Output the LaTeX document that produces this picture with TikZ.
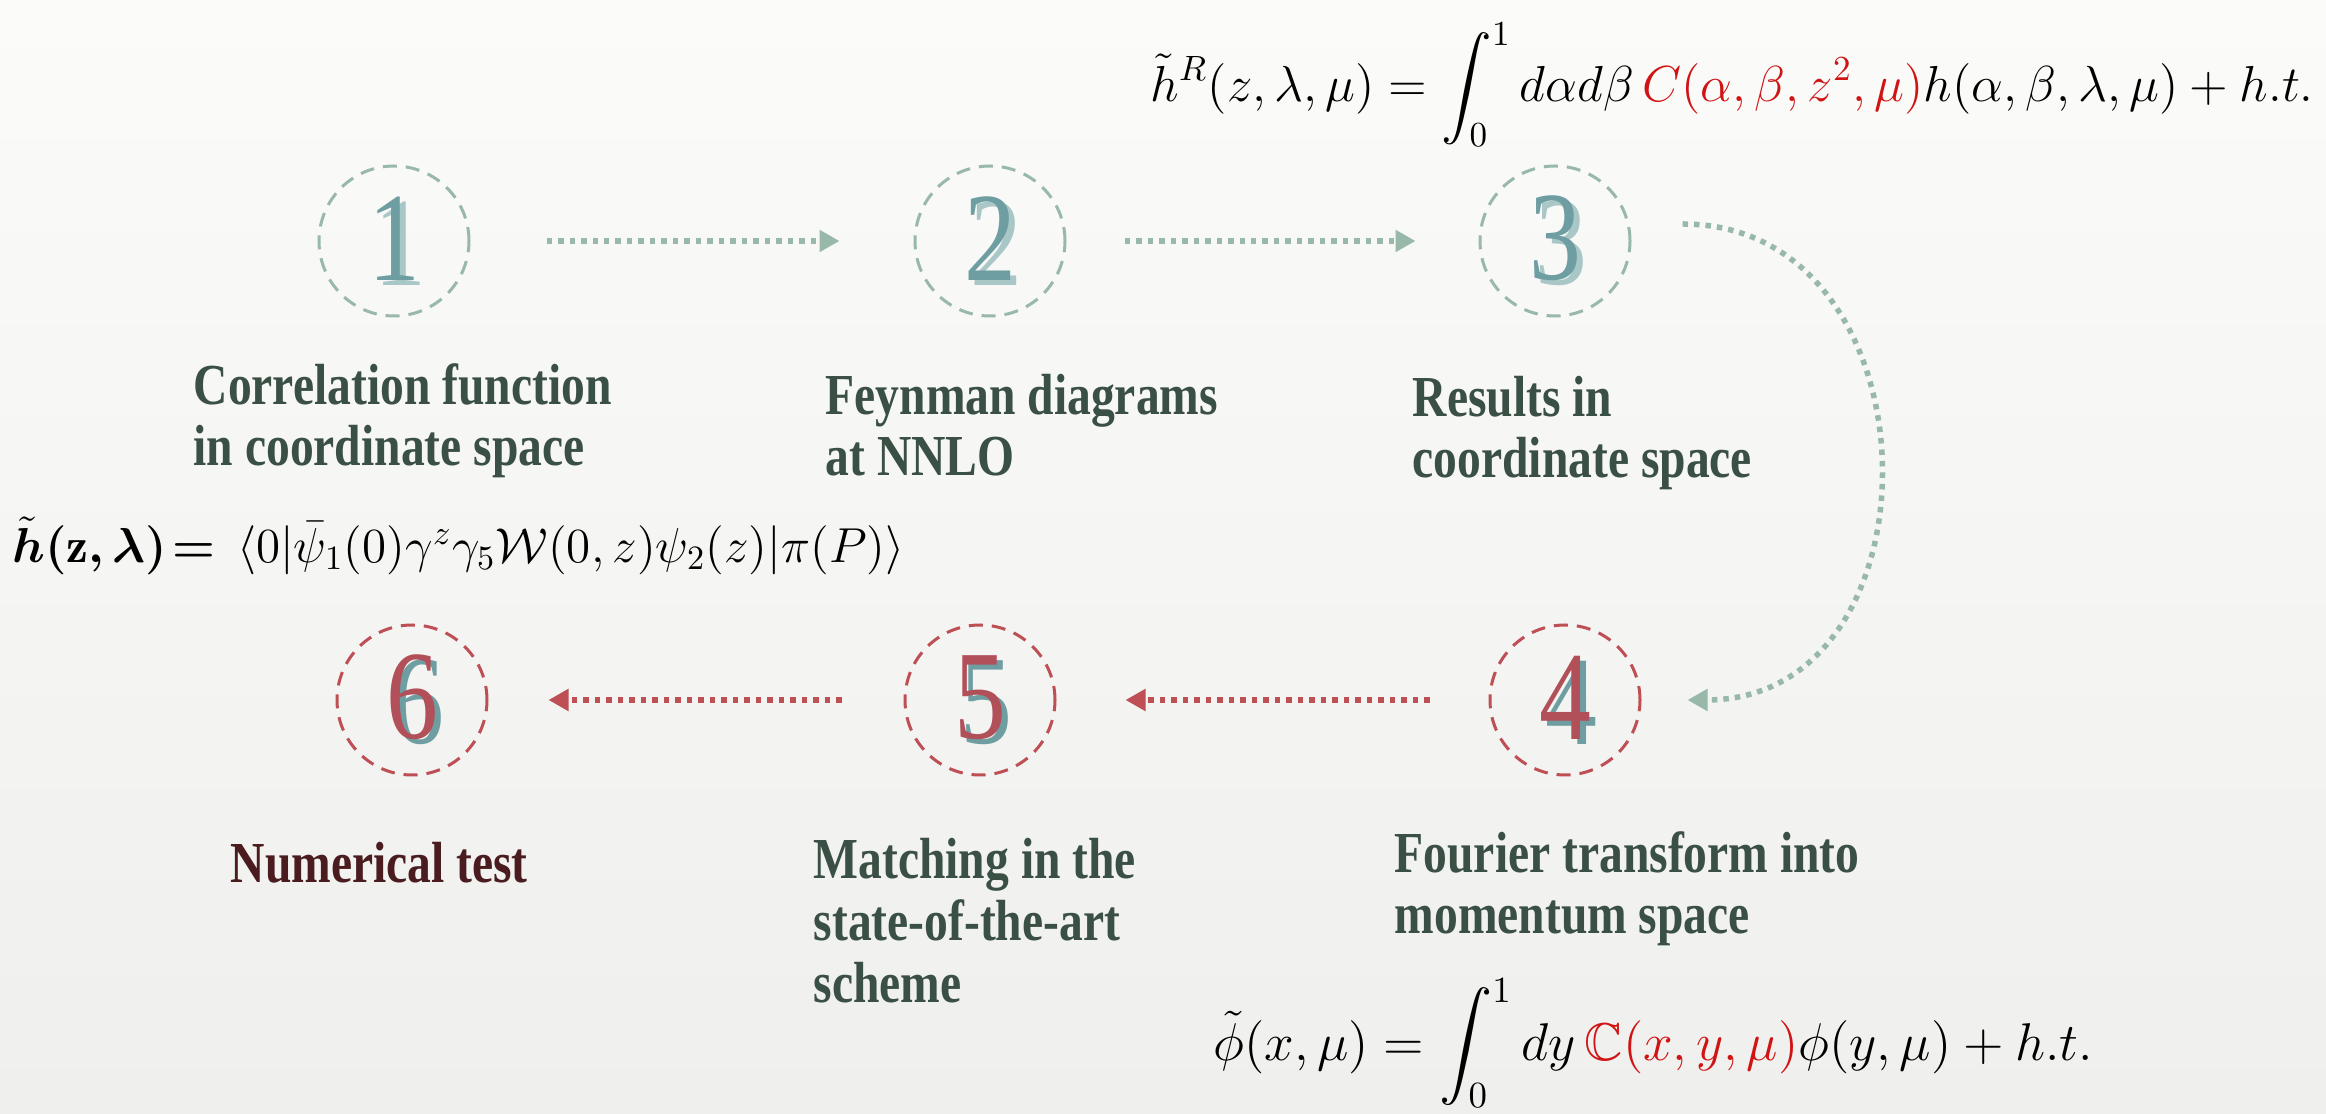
\documentclass[tikz,border=0pt]{standalone}
\usepackage{fontspec}
\usepackage{amsmath,amssymb,bm}
\usetikzlibrary{arrows.meta}

\newfontfamily\labelFont{Liberation Serif}[FakeStretch=0.82]

% digit with a coloured shadow behind it
\newcommand{\stepDigit}[3]{\rlap{\kern1.8pt\raisebox{-1.4pt}{\color{#3}#1}}\textcolor{#2}{#1}}

\begin{document}
\begin{tikzpicture}[
    stepCircle/.style={circle, draw=#1, line width=0.03cm, dash pattern=on 0.14cm off 0.09cm,
        minimum size=1.5cm, inner sep=0pt, font=\labelFont\fontsize{36}{36}\selectfont},
    flowArrow/.style={draw=#1, line width=0.055cm, dash pattern=on 0.055cm off 0.06cm,
        -{Triangle[length=0.2cm,width=0.21cm]}, shorten <=0.68cm, shorten >=0.68cm},
    stepLabel/.style={anchor=base west, align=left, inner sep=0pt, text=labelColour,
        font=\labelFont\bfseries\fontsize{16.5}{17.6}\selectfont},
    formula/.style={anchor=west, inner sep=0pt, font=\fontsize{14.4}{17}\selectfont}
]
    \definecolor{backTop}{HTML}{FBFBFA}
    \definecolor{backBottom}{HTML}{EFEFED}
    \definecolor{arrowColourTop}{HTML}{98B8AA}
    \definecolor{arrowColourBottom}{HTML}{BD4F55}
    \definecolor{digitTeal}{HTML}{6F9EA2}
    \definecolor{digitTealLight}{HTML}{A8C7C6}
    \definecolor{digitRed}{HTML}{B2505A}
    \definecolor{labelColour}{HTML}{3B5045}
    \definecolor{testColour}{HTML}{4A1C1F}
    \definecolor{formulaRed}{HTML}{D01414}

    % Background
    \shade[top color=backTop, bottom color=backBottom] (0,0) rectangle (23.26,11.14);
    \useasboundingbox (0,0) rectangle (23.26,11.14);

    % Steps 1 to 3
    \node[stepCircle=arrowColourTop] (circleOne) at (3.94,8.73) {\stepDigit{1}{digitTeal}{digitTealLight}};
    \node[stepCircle=arrowColourTop] (circleTwo) at (9.90,8.73) {\stepDigit{2}{digitTeal}{digitTealLight}};
    \node[stepCircle=arrowColourTop] (circleThree) at (15.55,8.73) {\stepDigit{3}{digitTeal}{digitTealLight}};

    % Steps 4 to 6
    \node[stepCircle=arrowColourBottom] (circleFour) at (15.65,4.14) {\stepDigit{4}{digitRed}{digitTeal}};
    \node[stepCircle=arrowColourBottom] (circleFive) at (9.80,4.14) {\stepDigit{5}{digitRed}{digitTeal}};
    \node[stepCircle=arrowColourBottom] (circleSix) at (4.12,4.14) {\stepDigit{6}{digitRed}{digitTeal}};

    % Arrows
    \draw[flowArrow=arrowColourTop, shorten <=0.76cm, shorten >=0.74cm] (circleOne) -- (circleTwo);
    \draw[flowArrow=arrowColourTop, shorten <=0.58cm, shorten >=0.63cm] (circleTwo) -- (circleThree);
    \draw[flowArrow=arrowColourTop, shorten <=0pt, shorten >=0pt]
        ([xshift=0.51cm,yshift=0.17cm]circleThree.east) .. controls +(2.6,0) and +(2.6,0) .. ([xshift=0.46cm]circleFour.east);
    \draw[flowArrow=arrowColourBottom, shorten <=0.59cm, shorten >=0.69cm] (circleFour) -- (circleFive);
    \draw[flowArrow=arrowColourBottom, shorten <=0.62cm, shorten >=0.60cm] (circleFive) -- (circleSix);

    % Labels (anchored at the baseline of the last line)
    \node[stepLabel] (labelOne) at (1.93,6.48) {Correlation function\\in coordinate space};
    \node[stepLabel] (labelTwo) at (8.25,6.38) {Feynman diagrams\\at NNLO};
    \node[stepLabel] (labelThree) at (14.12,6.36) {Results in\\coordinate space};
    \node[stepLabel] (labelFour) at (13.94,1.80) {Fourier transform into\\momentum space};
    \node[stepLabel] (labelFive) at (8.13,1.12) {Matching in the\\state-of-the-art\\scheme};
    \node[stepLabel, text=testColour] (labelSix) at (2.30,2.31) {Numerical test};

    % Formulas
    \node[formula] (formulaTop) at (11.50,10.29)
        {$\displaystyle \tilde{h}^{R}(z,\lambda,\mu)=\int_0^1 d\alpha d\beta\,\textcolor{formulaRed}{C(\alpha,\beta,z^2,\mu)}h(\alpha,\beta,\lambda,\mu)+h.t.$};
    \node[formula, scale=0.97, transform shape] (formulaMid) at (0.12,5.68)
        {$\bm{\tilde{h}(\mathrm{z},\lambda)}\!\bm{=}\,\langle 0|\bar{\psi}_1(0)\gamma^z\gamma_5\mathcal{W}(0,z)\psi_2(z)|\pi(P)\rangle$};
    \node[formula, scale=1.05, transform shape] (formulaBottom) at (12.13,0.71)
        {$\displaystyle \tilde{\phi}(x,\mu)=\int_0^1 dy\,\textcolor{formulaRed}{\mathbb{C}(x,y,\mu)}\phi(y,\mu)+h.t.$};

\end{tikzpicture}
\end{document}
